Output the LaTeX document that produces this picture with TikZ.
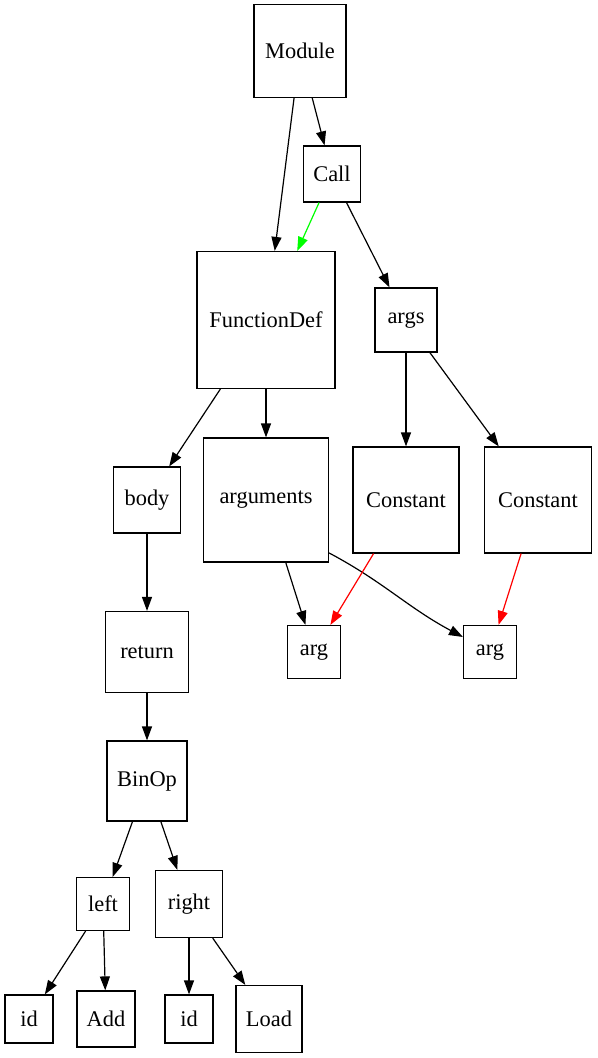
\documentclass[tikz,border=0pt]{standalone}
\usepackage{fontspec}
\setmainfont{Liberation Serif}
\usetikzlibrary{arrows.meta}
\begin{document}
\begin{tikzpicture}[x=0.5pt,y=-0.5pt,
  box/.style={draw,line width=0.6pt,inner sep=0pt,font=\fontsize{11.2}{13}\selectfont},
  edge/.style={line width=0.6pt,-{Triangle[length=7pt,width=5pt]}},
  sz/.style 2 args={minimum width=#1*0.5pt,minimum height=#2*0.5pt}]
\useasboundingbox (0,0) rectangle (598,1058);
\node[box,sz={92}{93}] (module) at (300,51) {Module};
\node[box,sz={57}{56}] (call) at (332,174) {Call};
\node[box,sz={138}{137}] (fdef) at (266,320) {FunctionDef};
\node[box,sz={62}{64}] (args) at (406,320) {args};
\node[box,sz={67}{66}] (body) at (147,500) {body};
\node[box,sz={125}{124}] (arguments) at (266,500) {arguments};
\node[box,sz={106}{106}] (const1) at (406,500) {Constant};
\node[box,sz={107}{106}] (const2) at (538,500) {Constant};
\node[box,sz={83}{81}] (ret) at (147,652) {return};
\node[box,sz={53}{53}] (arg1) at (314,652) {arg};
\node[box,sz={53}{53}] (arg2) at (490,652) {arg};
\node[box,sz={80}{80}] (binop) at (147,781) {BinOp};
\node[box,sz={53}{53}] (left) at (103,904) {left};
\node[box,sz={67}{67}] (right) at (189,904) {right};
\node[box,sz={48}{48}] (id1) at (29,1019) {id};
\node[box,sz={58}{56}] (add) at (106,1019) {Add};
\node[box,sz={48}{48}] (id2) at (189,1019) {id};
\node[box,sz={66}{67}] (load) at (269,1019) {Load};

\draw[edge] (module) -- (fdef);
\draw[edge] (module) -- (call);
\draw[edge,green] (call) -- (fdef);
\draw[edge] (call) -- (args);
\draw[edge] (fdef) -- (body);
\draw[edge] (fdef) -- (arguments);
\draw[edge] (args) -- (const1);
\draw[edge] (args) -- (const2);
\draw[edge] (arguments) -- (arg1);
\draw[edge] (arguments.-40) to[out=-28,in=152] (arg2.151);
\draw[edge,red] (const1) -- (arg1);
\draw[edge,red] (const2) -- (arg2);
\draw[edge] (body) -- (ret);
\draw[edge] (ret) -- (binop);
\draw[edge] (binop) -- (left);
\draw[edge] (binop) -- (right);
\draw[edge] (left) -- (id1);
\draw[edge] (left) -- (add);
\draw[edge] (right) -- (id2);
\draw[edge] (right) -- (load);
\end{tikzpicture}
\end{document}
